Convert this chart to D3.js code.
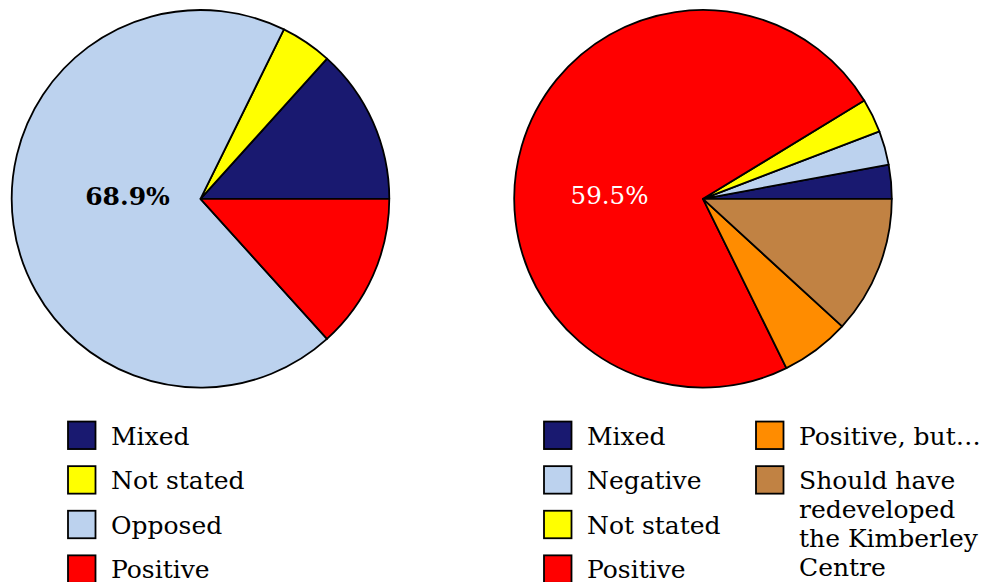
<!DOCTYPE html>
<html>
<head>
<meta charset="utf-8">
<script src="https://cdn.jsdelivr.net/npm/d3@7"></script>
<style>
  html, body { margin: 0; padding: 0; background: #fff; }
  svg { display: block; }
  text { font-family: "DejaVu Serif", serif; }
</style>
</head>
<body>
<script>
// ---- Data ----
const leftCategories = ["Mixed", "Not stated", "Opposed", "Positive"];
const leftValues = [13.3, 4.4, 68.9, 13.3];
const leftColors = ["#191970", "#ffff00", "#bcd2ee", "#ff0000"];
const leftLabel = "68.9%";

const rightCategories = ["Mixed", "Negative", "Not stated", "Positive", "Positive, but\u2026", "Should have redeveloped the Kimberley Centre"];
const rightValues = [2.9, 2.9, 2.9, 73.5, 5.9, 11.8];
const rightColors = ["#191970", "#bcd2ee", "#ffff00", "#ff0000", "#ff8c00", "#c18243"];
const rightLegendLines = [["Mixed"], ["Negative"], ["Not stated"], ["Positive"], ["Positive, but\u2026"], ["Should have", "redeveloped", "the Kimberley", "Centre"]];
const rightLabel = "59.5%";

// ---- Layout ----
const W = 996, H = 582;
const svg = d3.select("body").append("svg").attr("width", W).attr("height", H);

const R = 188.8;
const pie = d3.pie().sort(null).value(d => d)
  .startAngle(Math.PI / 2).endAngle(Math.PI / 2 - 2 * Math.PI);
const arc = d3.arc().innerRadius(0).outerRadius(R);

function drawPie(cx, cy, values, colors) {
  const g = svg.append("g").attr("transform", `translate(${cx},${cy})`);
  g.selectAll("path").data(pie(values)).join("path")
    .attr("d", arc)
    .attr("fill", (d, i) => colors[i])
    .attr("stroke", "#000")
    .attr("stroke-width", 1.8)
    .attr("stroke-linejoin", "round");
  return g;
}

const gL = drawPie(200.5, 198.8, leftValues, leftColors);
gL.append("text").attr("x", -73).attr("y", 6.5)
  .attr("text-anchor", "middle").attr("font-weight", "bold")
  .attr("font-size", 25).attr("fill", "#000").text(leftLabel);

const gR = drawPie(703, 198.8, rightValues, rightColors);
gR.append("text").attr("x", -93.5).attr("y", 5.5)
  .attr("text-anchor", "middle")
  .attr("font-size", 24.5).attr("fill", "#fff").text(rightLabel);

// ---- Legends ----
const rowY = d3.scaleLinear().domain([0, 1]).range([435.3, 479.9]);
const box = 27.5;

function legendItem(x, row, color, lines) {
  const cy = rowY(row);
  svg.append("rect")
    .attr("x", x).attr("y", cy - box / 2)
    .attr("width", box).attr("height", box)
    .attr("fill", color).attr("stroke", "#000").attr("stroke-width", 1.8);
  const t = svg.append("text")
    .attr("x", x + 43).attr("y", cy + 9.3)
    .attr("font-size", 25).attr("fill", "#000");
  lines.forEach((ln, k) => {
    t.append("tspan").attr("x", x + 43).attr("dy", k === 0 ? 0 : 28.8).text(ln);
  });
}

leftCategories.forEach((c, i) => legendItem(68, i, leftColors[i], [c]));
rightCategories.forEach((c, i) => {
  const col = i < 4 ? 0 : 1;
  const row = i < 4 ? i : i - 4;
  legendItem(col === 0 ? 544 : 756, row, rightColors[i], rightLegendLines[i]);
});
</script>
</body>
</html>
